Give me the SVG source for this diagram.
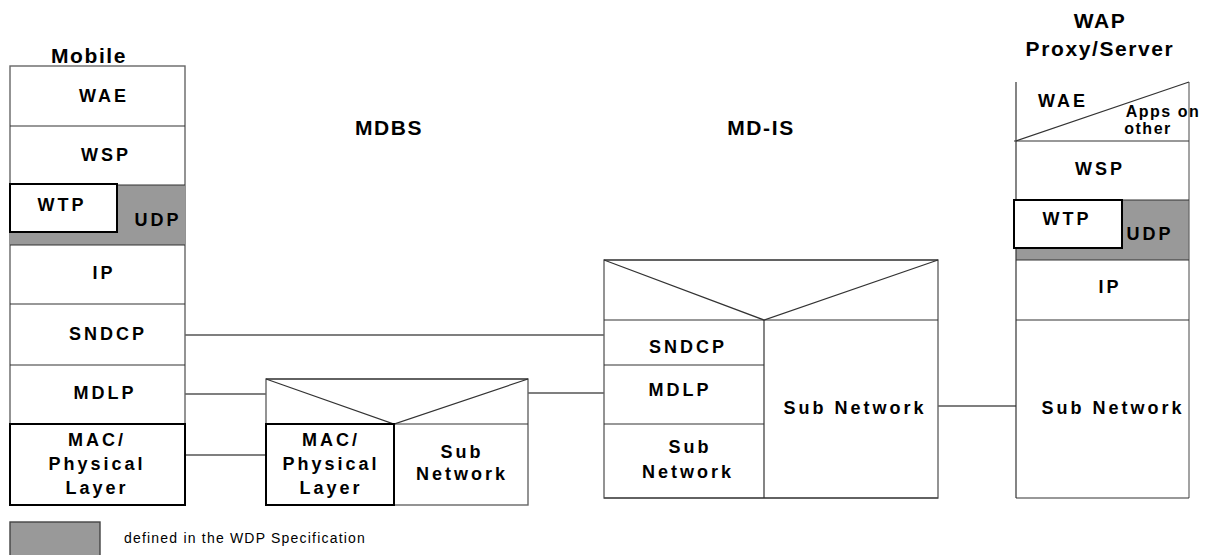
<svg xmlns="http://www.w3.org/2000/svg" width="1214" height="555" viewBox="0 0 1214 555">
<style>
text{font-family:"Liberation Sans",Arial,sans-serif;fill:#000;text-anchor:middle}
.t{font-size:21px;font-weight:bold;letter-spacing:1.6px}
.l{font-size:18px;font-weight:bold;letter-spacing:3px}
.s{font-size:16px;font-weight:bold;letter-spacing:1.5px}
.lg{font-size:14px;letter-spacing:1.2px;text-anchor:start}
.fr{fill:#fff;stroke:#666;stroke-width:1.4}
.ln{stroke:#333;stroke-width:1.2;fill:none}
.bx{fill:#fff;stroke:#000;stroke-width:2}
.gr{fill:#999;stroke:none}
.cn{stroke:#000;stroke-width:1.2;fill:none}
</style>
<g id="titles">
<text class="t" x="89" y="63">Mobile</text>
<text class="t" x="389" y="135">MDBS</text>
<text class="t" x="761" y="135">MD-IS</text>
<text class="t" x="1100" y="28">WAP</text>
<text class="t" x="1100" y="56">Proxy/Server</text>
</g>
<g id="connectors">
<line class="cn" x1="185" y1="335" x2="604" y2="335"/>
<line class="cn" x1="185" y1="394" x2="266" y2="394"/>
<line class="cn" x1="185" y1="455" x2="266" y2="455"/>
<line class="cn" x1="528" y1="393" x2="604" y2="393"/>
<line class="cn" x1="938" y1="406" x2="1016" y2="406"/>
</g>
<g id="mobile">
<rect class="fr" x="10" y="66" width="175" height="439"/>
<rect class="gr" x="10" y="185" width="175" height="60"/>
<line class="ln" x1="10" y1="126" x2="185" y2="126"/>
<line class="ln" x1="10" y1="185" x2="185" y2="185"/>
<line class="ln" x1="10" y1="245" x2="185" y2="245"/>
<line class="ln" x1="10" y1="304" x2="185" y2="304"/>
<line class="ln" x1="10" y1="365" x2="185" y2="365"/>
<rect class="bx" x="10" y="184" width="107" height="48"/>
<rect class="bx" x="10" y="424" width="175" height="81"/>
<text class="l" x="104" y="102">WAE</text>
<text class="l" x="106" y="161">WSP</text>
<text class="l" x="62" y="211">WTP</text>
<text class="l" x="158" y="226">UDP</text>
<text class="l" x="104" y="279">IP</text>
<text class="l" x="108" y="340">SNDCP</text>
<text class="l" x="105" y="399">MDLP</text>
<text class="l" x="97" y="446">MAC/</text>
<text class="l" x="97" y="470">Physical</text>
<text class="l" x="97" y="494">Layer</text>
</g>
<g id="mdbs">
<rect class="fr" x="266" y="379" width="262" height="126"/>
<line class="ln" x1="266" y1="379" x2="528" y2="379"/>
<polyline class="ln" points="266,379 394,424 528,379"/>
<line class="ln" x1="266" y1="424" x2="528" y2="424"/>
<line class="ln" x1="394" y1="424" x2="394" y2="505"/>
<rect class="bx" x="266" y="424" width="128" height="81"/>
<text class="l" x="331" y="446">MAC/</text>
<text class="l" x="331" y="470">Physical</text>
<text class="l" x="331" y="494">Layer</text>
<text class="l" x="462" y="458">Sub</text>
<text class="l" x="462" y="480">Network</text>
</g>
<g id="mdis">
<rect class="fr" x="604" y="260" width="334" height="238"/>
<line class="ln" x1="604" y1="260" x2="938" y2="260"/>
<polyline class="ln" points="604,260 764,320 938,260"/>
<line class="ln" x1="604" y1="320" x2="938" y2="320"/>
<line class="ln" x1="764" y1="320" x2="764" y2="498"/>
<line class="ln" x1="604" y1="365" x2="764" y2="365"/>
<line class="ln" x1="604" y1="424" x2="764" y2="424"/>
<line class="ln" x1="604" y1="498" x2="938" y2="498"/>
<text class="l" x="688" y="353">SNDCP</text>
<text class="l" x="680" y="396">MDLP</text>
<text class="l" x="690" y="453">Sub</text>
<text class="l" x="688" y="478">Network</text>
<text class="l" x="855" y="414">Sub Network</text>
</g>
<g id="wap">
<rect fill="#fff" x="1016" y="82" width="173" height="416"/>
<rect class="gr" x="1016" y="200" width="173" height="60"/>
<line class="ln" x1="1016" y1="82" x2="1016" y2="498"/>
<line class="ln" x1="1189" y1="82" x2="1189" y2="498" style="stroke:#666"/>
<line class="ln" x1="1016" y1="141" x2="1189" y2="82"/>
<line class="ln" x1="1014" y1="141" x2="1189" y2="141"/>
<line class="ln" x1="1016" y1="200" x2="1189" y2="200"/>
<line class="ln" x1="1016" y1="260" x2="1189" y2="260"/>
<line class="ln" x1="1016" y1="320" x2="1189" y2="320"/>
<line class="ln" x1="1016" y1="498" x2="1189" y2="498"/>
<rect class="bx" x="1014" y="200" width="108" height="48"/>
<text class="l" x="1063" y="107">WAE</text>
<text class="s" x="1163" y="117">Apps on</text>
<text class="s" x="1148" y="134">other</text>
<text class="l" x="1100" y="175">WSP</text>
<text class="l" x="1067" y="225">WTP</text>
<text class="l" x="1150" y="240">UDP</text>
<text class="l" x="1110" y="293">IP</text>
<text class="l" x="1113" y="414">Sub Network</text>
</g>
<g id="legend">
<rect x="10" y="522" width="90" height="40" fill="#999" stroke="#444" stroke-width="1.4"/>
<text class="lg" x="124" y="543">defined in the WDP Specification</text>
</g>
</svg>
